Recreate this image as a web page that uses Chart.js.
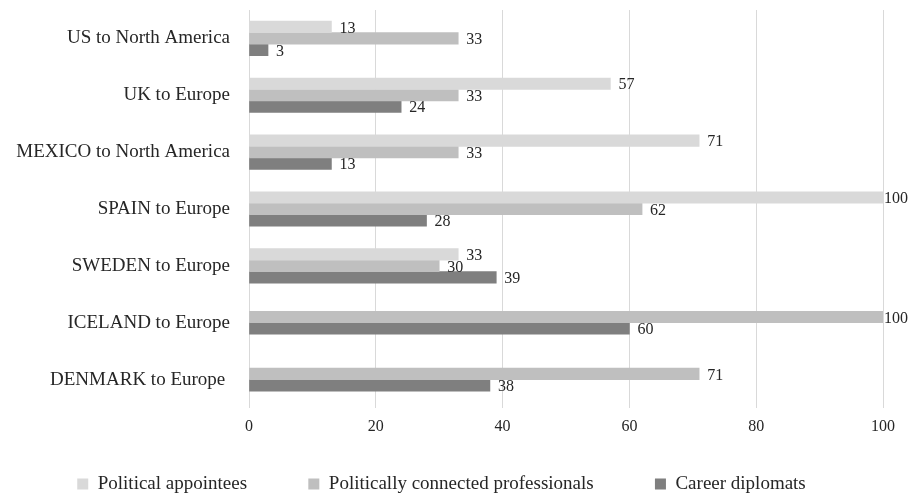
<!DOCTYPE html>
<html>
<head>
<meta charset="utf-8">
<script src="https://cdn.jsdelivr.net/npm/chart.js@4"></script>
<style>
  html, body { margin: 0; padding: 0; background: #fff; }
  #wrap { width: 912px; height: 498px; position: relative; }
</style>
</head>
<body>
<div id="wrap"><canvas id="chart"></canvas></div>
<script>
const categories = [
  'US to North America',
  'UK to Europe',
  'MEXICO to North America',
  'SPAIN to Europe',
  'SWEDEN to Europe',
  'ICELAND to Europe',
  'DENMARK to Europe '
];
const politicalAppointees = [13, 57, 71, 100, 33, null, null];
const connectedProfessionals = [33, 33, 33, 62, 30, 100, 71];
const careerDiplomats = [3, 24, 13, 28, 39, 60, 38];
const xTicks = [0, 20, 40, 60, 80, 100];

const FONT = '"Liberation Serif", "DejaVu Serif", serif';
const TEXT = '#262626';

// value labels at the end of each bar, kept inside the canvas
const barLabels = {
  id: 'barLabels',
  afterDatasetsDraw(chart) {
    const ctx = chart.ctx;
    ctx.save();
    ctx.font = '16px ' + FONT;
    ctx.fillStyle = TEXT;
    ctx.textAlign = 'left';
    ctx.textBaseline = 'middle';
    chart.data.datasets.forEach((ds, i) => {
      const meta = chart.getDatasetMeta(i);
      meta.data.forEach((bar, j) => {
        const v = ds.data[j];
        if (v === null || v === undefined) return;
        const txt = String(v);
        const w = ctx.measureText(txt).width;
        const x = Math.min(bar.x + 8, chart.width - w - 4);
        ctx.fillText(txt, x, bar.y + 1.5);
      });
    });
    ctx.restore();
  }
};

new Chart(document.getElementById('chart'), {
  type: 'bar',
  data: {
    labels: categories,
    datasets: [
      { label: 'Political appointees', data: politicalAppointees, backgroundColor: '#d9d9d9' },
      { label: 'Politically connected professionals', data: connectedProfessionals, backgroundColor: '#bfbfbf' },
      { label: 'Career diplomats', data: careerDiplomats, backgroundColor: '#7f7f7f' }
    ]
  },
  options: {
    indexAxis: 'y',
    responsive: true,
    maintainAspectRatio: false,
    animation: false,
    skipNull: true,
    barThickness: 11.5,
    layout: { padding: { top: 10, right: 29, bottom: -5.5, left: 0 } },
    scales: {
      x: {
        min: 0,
        max: 100,
        afterBuildTicks(scale) {
          scale.ticks = xTicks.map(v => ({ value: v }));
        },
        afterFit(scale) { scale.height = 29; },
        grid: { color: '#d9d9d9', drawTicks: false },
        border: { display: false },
        ticks: { padding: 9, color: TEXT, font: { family: FONT, size: 16 } }
      },
      y: {
        afterFit(scale) {
          scale.width = 249;
          scale.paddingTop = 0;
          scale.paddingBottom = 0;
        },
        grid: { display: false, drawTicks: false },
        border: { display: false },
        ticks: { padding: 19, color: TEXT, font: { family: FONT, size: 19 } }
      }
    },
    plugins: {
      legend: {
        position: 'bottom',
        labels: {
          boxWidth: 11,
          boxHeight: 11,
          padding: 37.5,
          color: TEXT,
          font: { family: FONT, size: 19 },
          // wider gap after the first two entries, as in the original
          generateLabels(chart) {
            const items = Chart.defaults.plugins.legend.labels.generateLabels(chart);
            items.forEach((it, i) => {
              if (i < items.length - 1) it.text += '     ';
            });
            return items;
          }
        }
      },
      tooltip: { enabled: false }
    }
  },
  plugins: [barLabels]
});
</script>
</body>
</html>
